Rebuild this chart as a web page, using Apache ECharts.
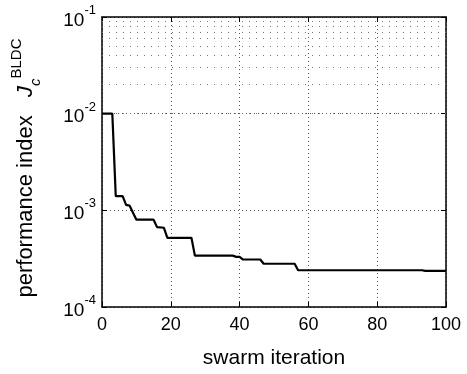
<!DOCTYPE html>
<html>
<head>
<meta charset="utf-8">
<script src="https://cdn.jsdelivr.net/npm/echarts@6/dist/echarts.min.js"></script>
<style>html,body{margin:0;padding:0;background:#fff;}#c{width:467px;height:374px;}</style>
</head>
<body>
<div id="c"></div>
<script>
// Breakpoints of the best-so-far performance index per swarm iteration
const iterations = [0, 3, 4, 6, 7, 8, 10, 15, 16, 18, 19, 26, 27, 38, 39, 40, 41, 46, 47, 56, 57, 93, 94, 100];
const values = [1e-2, 1e-2, 1.4e-3, 1.4e-3, 1.14e-3, 1.12e-3, 8.0e-4, 8.0e-4, 6.7e-4, 6.6e-4, 5.2e-4, 5.2e-4, 3.4e-4, 3.4e-4, 3.3e-4, 3.3e-4, 3.1e-4, 3.1e-4, 2.8e-4, 2.8e-4, 2.4e-4, 2.4e-4, 2.36e-4, 2.36e-4];
const xTicks = [0, 20, 40, 60, 80, 100];
const yTicks = [1e-4, 1e-3, 1e-2, 1e-1];
const yMinorGrid = [2e-4, 3e-4, 4e-4, 5e-4, 6e-4, 7e-4, 8e-4, 9e-4,
                    2e-3, 3e-3, 4e-3, 5e-3, 6e-3, 7e-3, 8e-3, 9e-3,
                    2e-2, 3e-2, 4e-2, 5e-2, 6e-2, 7e-2, 8e-2, 9e-2];

const chart = echarts.init(document.getElementById('c'), null, {renderer: 'canvas'});
const font = 'Liberation Sans, Arial, Helvetica, sans-serif';
const gridDot = {color: '#555', width: 1, type: [1, 3]};
const minorDot = {color: '#777', width: 1, type: [1, 6]};

chart.setOption({
  animation: false,
  backgroundColor: '#fff',
  grid: {left: 102, right: 21, top: 17, bottom: 59, containLabel: false},
  xAxis: [{
    type: 'value', min: xTicks[0], max: xTicks[xTicks.length - 1], interval: 20,
    position: 'bottom',
    axisLine: {show: true, lineStyle: {color: '#000', width: 1.5}},
    axisTick: {show: true, inside: true, length: 5, lineStyle: {color: '#000'}},
    axisLabel: {color: '#000', fontSize: 18, fontFamily: font, margin: 9},
    splitLine: {show: true, lineStyle: gridDot},
    name: 'swarm iteration', nameLocation: 'middle', nameGap: 41,
    nameTextStyle: {color: '#000', fontSize: 21, fontFamily: font}
  }, {
    type: 'value', min: 0, max: 100, interval: 20, position: 'top',
    axisLine: {show: true, onZero: false, lineStyle: {color: '#000', width: 1.5}},
    axisTick: {show: true, inside: true, length: 5, lineStyle: {color: '#000'}},
    axisLabel: {show: false}, splitLine: {show: false}
  }],
  yAxis: [{
    type: 'log', logBase: 10, min: yTicks[0], max: yTicks[yTicks.length - 1],
    position: 'left',
    axisLine: {show: true, lineStyle: {color: '#000', width: 1.5}},
    axisTick: {show: true, inside: true, length: 5, lineStyle: {color: '#000'}},
    axisLabel: {
      color: '#000', fontFamily: font, margin: 6,
      formatter: function (v) {
        const e = Math.round(Math.log10(v));
        return '{b|10}{s|' + e + '}';
      },
      rich: {
        b: {fontSize: 19, lineHeight: 26, verticalAlign: 'bottom', color: '#000', fontFamily: font},
        s: {fontSize: 13, lineHeight: 13, verticalAlign: 'top', color: '#000', fontFamily: font}
      }
    },
    splitLine: {show: true, lineStyle: gridDot}
  }, {
    type: 'log', logBase: 10, min: 1e-4, max: 1e-1, position: 'right',
    axisLine: {show: true, onZero: false, lineStyle: {color: '#000', width: 1.5}},
    axisTick: {show: true, inside: true, length: 5, lineStyle: {color: '#000'}},
    axisLabel: {show: false}, splitLine: {show: false}
  }],
  graphic: [{
    type: 'text', x: 26, y: 168, rotation: Math.PI / 2,
    style: {
      text: '{n|performance index   }{j|J}{c|c}{u|BLDC}',
      align: 'center', verticalAlign: 'middle',
      fill: '#000', font: '22px ' + font,
      rich: {
        n: {fontSize: 22, lineHeight: 34, verticalAlign: 'middle', fontFamily: font, fill: '#000'},
        j: {fontSize: 22, lineHeight: 34, verticalAlign: 'middle', fontStyle: 'italic', fontFamily: font, fill: '#000'},
        c: {fontSize: 15, lineHeight: 15, verticalAlign: 'bottom', fontStyle: 'italic', fontFamily: font, fill: '#000'},
        u: {fontSize: 15, lineHeight: 15, verticalAlign: 'top', fontFamily: font, fill: '#000'}
      }
    }
  }],
  series: [{
    type: 'line',
    data: iterations.map((x, i) => [x, values[i]]),
    showSymbol: false,
    lineStyle: {color: '#000', width: 2.2},
    itemStyle: {color: '#000'},
    z: 5,
    markLine: {
      silent: true, symbol: 'none', label: {show: false},
      lineStyle: minorDot,
      data: yMinorGrid.map(v => ({yAxis: v}))
    }
  }]
});
</script>
</body>
</html>
